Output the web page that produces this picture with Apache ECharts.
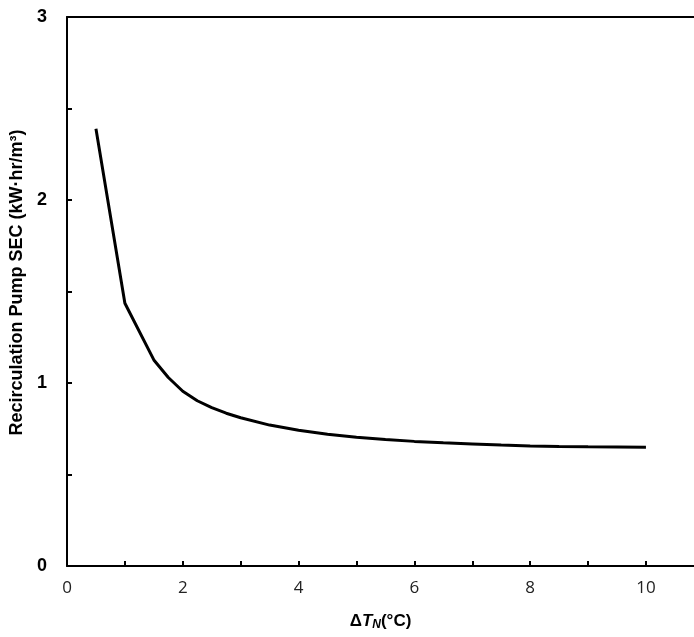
<!DOCTYPE html>
<html>
<head>
<meta charset="utf-8">
<script src="https://cdn.jsdelivr.net/npm/echarts@6/dist/echarts.min.js"></script>
<style>html,body{margin:0;padding:0;background:#fff}#c{width:694px;height:637px}</style>
</head>
<body>
<div id="c"></div>
<script>
var deltaT = [0.5, 1, 1.5, 1.75, 2, 2.25, 2.5, 2.75, 3, 3.5, 4, 4.5, 5, 5.5, 6, 6.5, 7, 7.5, 8, 8.5, 9, 9.5, 10];
var sec = [2.39, 1.436, 1.126, 1.03, 0.955, 0.903, 0.865, 0.835, 0.81, 0.77, 0.742, 0.72, 0.703, 0.691, 0.681, 0.673, 0.667, 0.661, 0.656, 0.653, 0.651, 0.65, 0.649];
var xTickLabels = ['0', '2', '4', '6', '8', '10'];
var yTickLabels = ['0', '1', '2', '3'];

var chart = echarts.init(document.getElementById('c'), null, {renderer: 'canvas'});
var font = '"Open Sans", "Noto Sans", sans-serif';
var boldFont = '"Liberation Sans", Arial, sans-serif';
chart.setOption({
  animation: false,
  backgroundColor: '#fff',
  grid: {left: 67, right: 0, top: 17, bottom: 71, containLabel: false, outerBoundsMode: 'none'},
  xAxis: [{
    type: 'value', min: 0, max: 10.83, interval: 1,
    axisLine: {show: true, lineStyle: {color: '#000', width: 2}},
    axisTick: {show: true, inside: true, length: 5, lineStyle: {color: '#000', width: 2}},
    splitLine: {show: false},
    axisLabel: {
      margin: 14, color: '#222', fontFamily: font, fontSize: 17, showMaxLabel: false,
      formatter: function (v) { var s = String(v); return xTickLabels.indexOf(s) >= 0 ? s : ''; }
    },
    name: '{a|Δ}{t|T}{n|N}{a|(°C)}',
    nameLocation: 'middle', nameGap: 46,
    nameTextStyle: {
      rich: {
        a: {fontFamily: boldFont, fontWeight: 'bold', fontSize: 17, color: '#000'},
        t: {fontFamily: boldFont, fontWeight: 'bold', fontStyle: 'italic', fontSize: 17, color: '#000'},
        n: {fontFamily: boldFont, fontWeight: 'bold', fontStyle: 'italic', fontSize: 12, color: '#000', padding: [7, 0, 0, 0]}
      }
    }
  }, {
    type: 'value', position: 'top', min: 0, max: 10.83,
    axisLine: {show: true, onZero: false, lineStyle: {color: '#000', width: 2}},
    axisTick: {show: false}, axisLabel: {show: false}, splitLine: {show: false}
  }],
  yAxis: {
    type: 'value', min: 0, max: 3, interval: 0.5,
    axisLine: {show: true, lineStyle: {color: '#000', width: 2}},
    axisTick: {show: true, inside: true, length: 5, lineStyle: {color: '#000', width: 2}},
    splitLine: {show: false},
    axisLabel: {
      margin: 20, color: '#000', fontFamily: boldFont, fontWeight: 'bold', fontSize: 18,
      formatter: function (v) { var s = String(v); return yTickLabels.indexOf(s) >= 0 ? s : ''; }
    },
    name: 'Recirculation Pump SEC (kW·hr/m³)',
    nameLocation: 'middle', nameGap: 40,
    nameTextStyle: {fontFamily: boldFont, fontWeight: 'bold', fontSize: 18, color: '#000', padding: [0, 0, 0, 18]}
  },
  series: [{
    type: 'line',
    xAxisIndex: 0,
    data: deltaT.map(function (x, i) { return [x, sec[i]]; }),
    symbol: 'none', smooth: false,
    lineStyle: {color: '#000', width: 3}
  }]
});
</script>
</body>
</html>
